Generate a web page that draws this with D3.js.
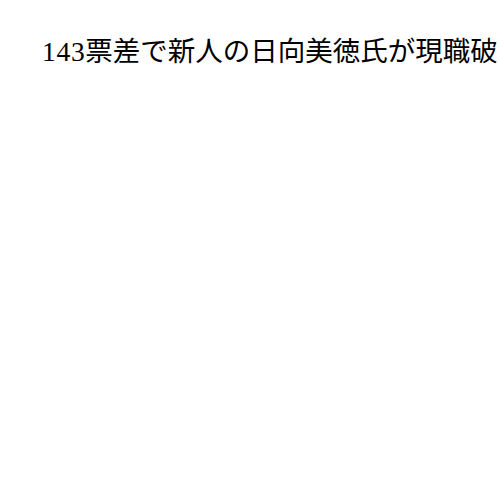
<!DOCTYPE html>
<html>
<head>
<meta charset="utf-8">
<script src="https://cdn.jsdelivr.net/npm/d3@7"></script>
<style>
  html, body { margin: 0; padding: 0; background: #fff; }
</style>
</head>
<body>
<div id="chart"></div>
<script>
const titleText = "143票差で新人の日向美徳氏が現職破り";
const categories = [];
const seriesValues = [];

const width = 500, height = 500;
const svg = d3.select("#chart").append("svg")
  .attr("width", width).attr("height", height);

const title = svg.append("text")
  .attr("x", 42)
  .attr("y", 61)
  .attr("font-family", "'Liberation Serif', 'Noto Sans CJK JP', serif")
  .attr("font-size", 27.5)
  .attr("fill", "#000");
title.append("tspan").attr("letter-spacing", 0.7).text(titleText.slice(0, 3));
title.append("tspan").text(titleText.slice(3));
</script>
</body>
</html>
